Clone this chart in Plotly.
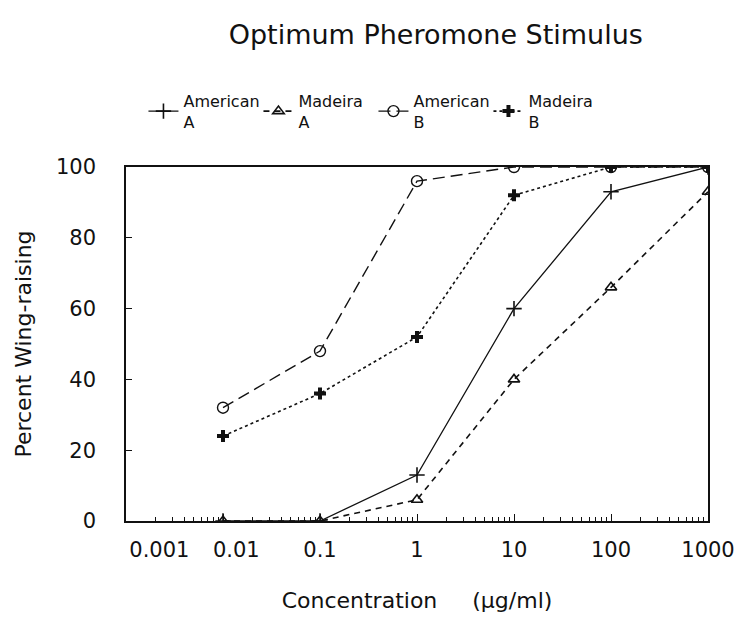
import plotly.graph_objects as go

conc = [0.01, 0.1, 1, 10, 100, 1000]
american_a = [0, 0, 13, 60, 93, 100]
madeira_a = [0, 0, 6, 40, 66, 93]
american_b = [32, 48, 96, 100, 100, 100]
madeira_b = [24, 36, 52, 92, 100, 100]

x_tickvals = [0.001, 0.01, 0.1, 1, 10, 100, 1000]
x_ticktext = ["&nbsp;&nbsp;&nbsp;&nbsp;&nbsp;&nbsp;&nbsp;&nbsp;&nbsp;&nbsp;0.001", "&nbsp;&nbsp;&nbsp;&nbsp;0.01", "0.1", "1", "10", "100", "1000"]
y_tickvals = [0, 20, 40, 60, 80, 100]
minor_tickvals = [m * 10.0 ** e for e in range(-3, 3) for m in range(2, 10)]

FONT = "DejaVu Sans"
BLACK = "#111111"

fig = go.Figure()
fig.add_trace(go.Scatter(x=conc, y=american_a, name="American<br>A", mode="lines+markers",
                         line=dict(color=BLACK, width=1.3, dash="solid"),
                         marker=dict(symbol="cross-thin", size=11, line=dict(color=BLACK, width=1.6))))
fig.add_trace(go.Scatter(x=conc, y=madeira_a, name="Madeira<br>A", mode="lines+markers",
                         line=dict(color=BLACK, width=1.6, dash="6px,5px"),
                         marker=dict(symbol="triangle-up-open", size=10, color=BLACK, line=dict(width=1.6))))
fig.add_trace(go.Scatter(x=conc, y=american_b, name="American<br>B", mode="lines+markers",
                         line=dict(color=BLACK, width=1.4, dash="12px,6px"),
                         marker=dict(symbol="circle-open", size=11, color=BLACK, line=dict(width=1.4))))
fig.add_trace(go.Scatter(x=conc, y=madeira_b, name="Madeira<br>B", mode="lines+markers",
                         line=dict(color=BLACK, width=1.6, dash="dot"),
                         marker=dict(symbol="cross", size=10, color=BLACK)))

fig.update_layout(
    width=744, height=623,
    margin=dict(l=118, r=44, t=159, b=110, autoexpand=False),
    paper_bgcolor="white", plot_bgcolor="white",
    font=dict(family=FONT, color=BLACK, size=20),
    title=dict(text="Optimum Pheromone Stimulus", x=0.575, xanchor="center", y=0.957, yanchor="middle",
               font=dict(family=FONT, size=27, color=BLACK)),
    legend=dict(orientation="h", x=0.03, xanchor="left", y=1.235, yanchor="top",
                font=dict(family=FONT, size=16, color=BLACK), bgcolor="rgba(0,0,0,0)",
                itemwidth=30, entrywidth=70, entrywidthmode="pixels", tracegroupgap=0),
    showlegend=True,
)
fig.update_xaxes(type="log", range=[-3, 3], tickvals=x_tickvals, ticktext=x_ticktext,
                 tickangle=0, automargin=False,
                 showgrid=False, zeroline=False, showline=True, linecolor=BLACK, linewidth=1.5,
                 mirror=True, ticks="inside", ticklen=7, tickcolor=BLACK, ticklabelstandoff=9,
                 tickfont=dict(size=21, family=FONT),
                 minor=dict(tickmode="array", tickvals=minor_tickvals, ticks="inside", ticklen=4,
                            tickcolor=BLACK, tickwidth=1, showgrid=False),
                 title=dict(text="Concentration &nbsp;&nbsp;&nbsp;&nbsp;(µg/ml)", font=dict(size=22, family=FONT), standoff=32))
fig.update_yaxes(range=[0, 100], tickvals=y_tickvals, showgrid=False, zeroline=False,
                 automargin=False,
                 showline=True, linecolor=BLACK, linewidth=1.5, mirror=True,
                 ticks="inside", ticklen=6, tickcolor=BLACK, ticklabelstandoff=24,
                 tickfont=dict(size=21, family=FONT),
                 title=dict(text="Percent Wing-raising", font=dict(size=22, family=FONT), standoff=18))

fig.write_html("out.html")
